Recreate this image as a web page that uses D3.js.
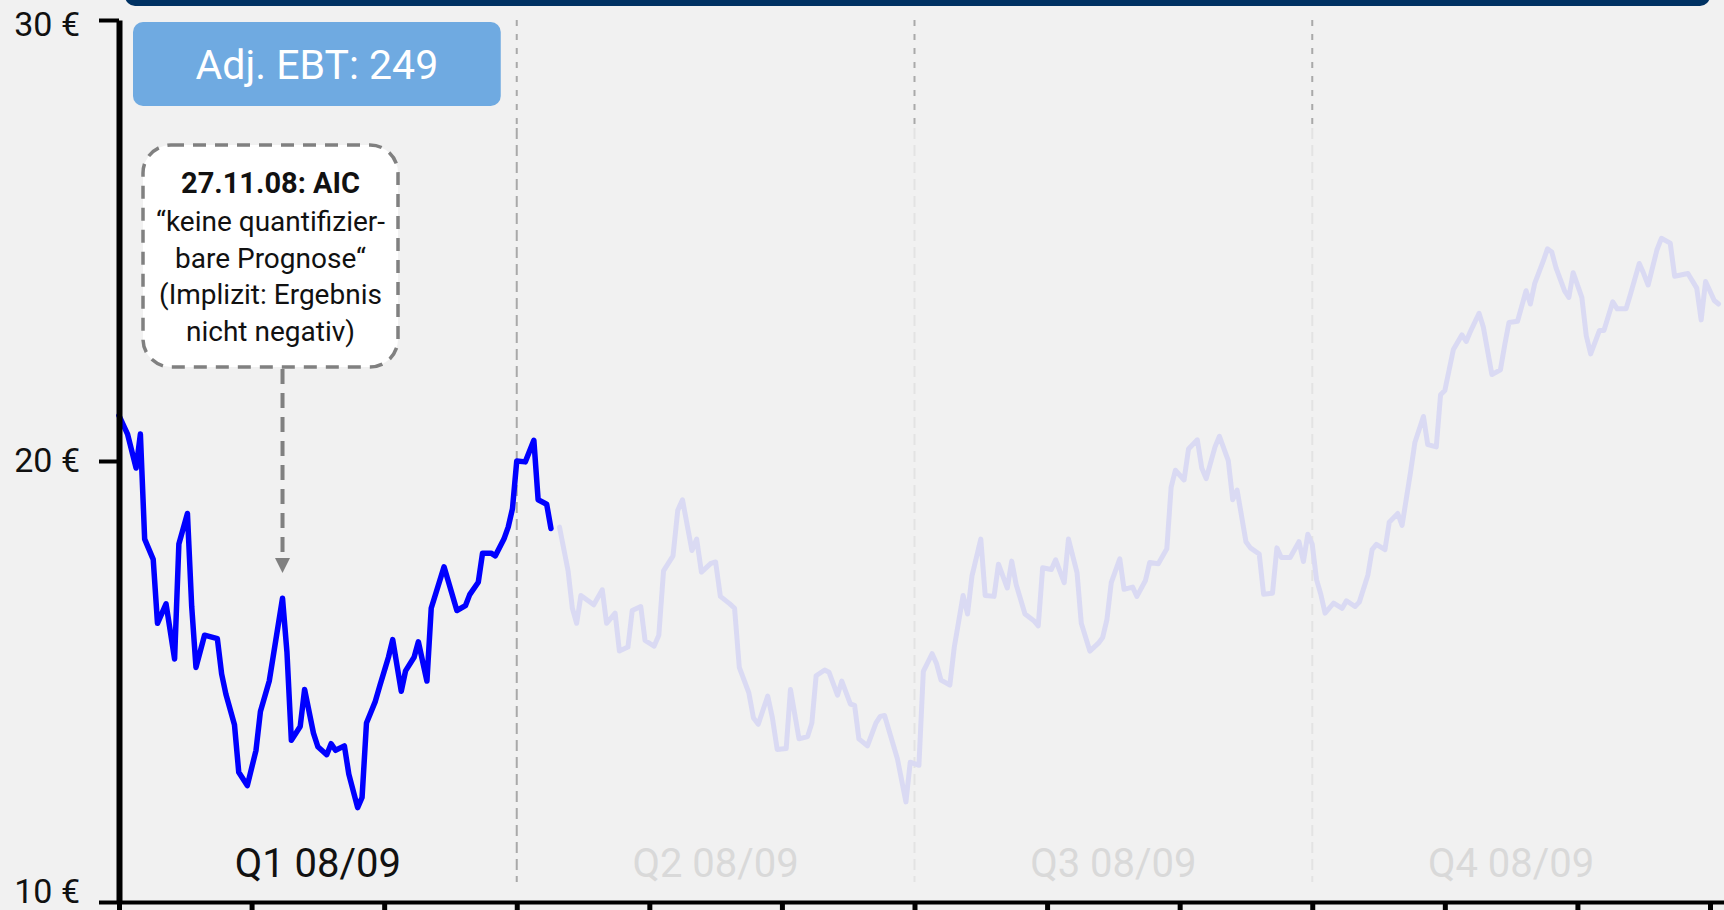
<!DOCTYPE html>
<html><head><meta charset="utf-8">
<script src="https://cdn.jsdelivr.net/npm/d3@7"></script>
<style>
html,body{margin:0;padding:0;background:#f1f1f1;overflow:hidden}
svg{display:block}
text{font-family:Roboto,"Noto Sans",sans-serif}
</style>
</head><body>
<svg id="chart" width="1724" height="910"></svg>
<script>
// ---------- DATA ----------
const yTickValues = [10, 20, 30];
const monthTickDates = ["2008-10-01","2008-11-01","2008-12-01","2009-01-01","2009-02-01","2009-03-01","2009-04-01","2009-05-01","2009-06-01","2009-07-01","2009-08-01","2009-09-01","2009-10-01"];
const quarterStarts = ["2008-10-01","2009-01-01","2009-04-01","2009-07-01","2009-10-01"];
const quarterLabels = ["Q1 08/09","Q2 08/09","Q3 08/09","Q4 08/09"];
const ebtLabel = "Adj. EBT: 249";
const noteTitle = "27.11.08: AIC";
const noteLines = ["\u201Ckeine quantifizier-","bare Prognose\u201C","(Implizit: Ergebnis","nicht negativ)"];
const noteArrowDate = "2008-11-08";

// Q1 (highlighted) share price
const pastDates = ["2008-10-01","2008-10-03","2008-10-05","2008-10-06","2008-10-07","2008-10-09","2008-10-10","2008-10-12","2008-10-14","2008-10-15","2008-10-17","2008-10-18","2008-10-19","2008-10-21","2008-10-24","2008-10-25","2008-10-26","2008-10-28","2008-10-29","2008-10-31","2008-11-02","2008-11-03","2008-11-05","2008-11-08","2008-11-09","2008-11-10","2008-11-12","2008-11-13","2008-11-15","2008-11-16","2008-11-18","2008-11-19","2008-11-20","2008-11-22","2008-11-23","2008-11-25","2008-11-26","2008-11-27","2008-11-29","2008-11-30","2008-12-02","2008-12-03","2008-12-05","2008-12-06","2008-12-08","2008-12-09","2008-12-11","2008-12-12","2008-12-15","2008-12-18","2008-12-20","2008-12-21","2008-12-23","2008-12-24","2008-12-26","2008-12-27","2008-12-29","2008-12-30","2008-12-31","2009-01-01","2009-01-03","2009-01-05","2009-01-06","2009-01-08","2009-01-09"];
const pastPrices = [21.03,20.61,19.84,20.61,18.23,17.77,16.32,16.76,15.51,18.12,18.81,16.70,15.32,16.05,15.97,15.17,14.71,14.02,12.94,12.64,13.44,14.32,15.01,16.89,15.67,13.67,13.98,14.82,13.83,13.52,13.34,13.59,13.44,13.54,12.90,12.14,12.37,14.06,14.55,14.90,15.55,15.95,14.78,15.24,15.55,15.90,15.01,16.66,17.60,16.61,16.72,16.97,17.25,17.91,17.91,17.85,18.23,18.50,18.92,20.00,19.98,20.47,19.12,19.02,18.47];

// Rest of the year (faded) share price
const futureDates = ["2009-01-11","2009-01-13","2009-01-14","2009-01-15","2009-01-16","2009-01-19","2009-01-21","2009-01-22","2009-01-24","2009-01-25","2009-01-27","2009-01-28","2009-01-30","2009-01-31","2009-02-02","2009-02-03","2009-02-04","2009-02-06","2009-02-07","2009-02-08","2009-02-10","2009-02-11","2009-02-12","2009-02-14","2009-02-15","2009-02-16","2009-02-18","2009-02-19","2009-02-20","2009-02-22","2009-02-23","2009-02-24","2009-02-26","2009-02-27","2009-02-28","2009-03-02","2009-03-03","2009-03-05","2009-03-07","2009-03-08","2009-03-09","2009-03-11","2009-03-12","2009-03-14","2009-03-15","2009-03-17","2009-03-18","2009-03-19","2009-03-21","2009-03-23","2009-03-24","2009-03-25","2009-03-28","2009-03-30","2009-03-31","2009-04-02","2009-04-03","2009-04-05","2009-04-06","2009-04-07","2009-04-09","2009-04-10","2009-04-12","2009-04-13","2009-04-14","2009-04-16","2009-04-17","2009-04-19","2009-04-20","2009-04-22","2009-04-23","2009-04-24","2009-04-26","2009-04-28","2009-04-29","2009-04-30","2009-05-02","2009-05-03","2009-05-05","2009-05-06","2009-05-08","2009-05-09","2009-05-11","2009-05-13","2009-05-14","2009-05-15","2009-05-16","2009-05-18","2009-05-19","2009-05-21","2009-05-22","2009-05-24","2009-05-25","2009-05-27","2009-05-29","2009-05-30","2009-05-31","2009-06-02","2009-06-03","2009-06-05","2009-06-06","2009-06-07","2009-06-09","2009-06-10","2009-06-12","2009-06-13","2009-06-14","2009-06-16","2009-06-17","2009-06-19","2009-06-20","2009-06-22","2009-06-23","2009-06-24","2009-06-26","2009-06-28","2009-06-29","2009-06-30","2009-07-01","2009-07-02","2009-07-03","2009-07-04","2009-07-06","2009-07-08","2009-07-09","2009-07-11","2009-07-12","2009-07-14","2009-07-15","2009-07-16","2009-07-18","2009-07-19","2009-07-21","2009-07-22","2009-07-24","2009-07-25","2009-07-27","2009-07-28","2009-07-30","2009-07-31","2009-08-01","2009-08-03","2009-08-05","2009-08-06","2009-08-07","2009-08-09","2009-08-10","2009-08-12","2009-08-14","2009-08-15","2009-08-16","2009-08-18","2009-08-20","2009-08-21","2009-08-22","2009-08-24","2009-08-25","2009-08-26","2009-08-27","2009-08-29","2009-08-30","2009-08-31","2009-09-02","2009-09-03","2009-09-04","2009-09-06","2009-09-07","2009-09-09","2009-09-10","2009-09-12","2009-09-13","2009-09-15","2009-09-16","2009-09-17","2009-09-19","2009-09-20","2009-09-22","2009-09-23","2009-09-26","2009-09-28","2009-09-29","2009-09-30","2009-10-02","2009-10-03"];
const futurePrices = [18.50,17.51,16.66,16.32,16.95,16.74,17.08,16.32,16.55,15.69,15.78,16.61,16.70,15.93,15.80,16.05,17.51,17.85,18.88,19.12,17.97,18.23,17.48,17.68,17.71,16.93,16.76,16.66,15.32,14.75,14.17,14.03,14.67,14.17,13.46,13.48,14.82,13.70,13.75,14.06,15.13,15.26,15.21,14.69,15.01,14.49,14.46,13.70,13.54,14.06,14.21,14.23,13.25,12.27,13.17,13.10,15.23,15.63,15.40,15.03,14.92,15.78,16.95,16.53,17.39,18.23,16.95,16.93,17.66,17.12,17.73,17.20,16.53,16.38,16.26,17.58,17.54,17.76,17.24,18.23,17.47,16.32,15.69,15.87,16.00,16.41,17.24,17.78,17.09,17.14,16.93,17.29,17.70,17.67,18.01,19.40,19.79,19.57,20.27,20.48,19.84,19.60,20.32,20.56,20.01,19.12,19.34,18.17,18.03,17.89,16.98,17.00,18.03,17.81,17.81,18.17,17.72,18.34,18.11,17.31,16.98,16.55,16.78,16.66,16.83,16.70,16.80,17.41,17.99,18.11,17.99,18.61,18.81,18.54,19.76,20.42,21.01,20.37,20.32,21.50,21.60,22.53,22.86,22.71,22.94,23.35,23.04,21.96,22.07,22.63,23.14,23.17,23.86,23.56,24.02,24.53,24.81,24.74,24.38,23.86,23.71,24.27,23.71,22.84,22.43,22.96,22.96,23.61,23.45,23.45,23.78,24.48,24.25,23.99,24.79,25.05,24.94,24.19,24.25,23.92,23.20,24.07,23.64,23.56];

// ---------- HELPERS ----------
const parse = d3.timeParse("%Y-%m-%d");
// position of a date in "months since 1 Oct 2008" (months drawn equally wide)
function monthPos(s){
  const dt = parse(s);
  const y = dt.getFullYear(), m = dt.getMonth();
  const dim = new Date(y, m + 1, 0).getDate();
  return (y - 2008) * 12 + m - 9 + (dt.getDate() - 1) / dim;
}

const W = 1724, H = 910;
const svg = d3.select("#chart");
svg.append("rect").attr("width", W).attr("height", H).attr("fill", "#f1f1f1");

const x = d3.scaleLinear().domain([0, 12]).range([119, 1710]);
const y = d3.scaleLinear().domain([10, 30]).range([902, 20]);

// ---------- TOP BANNER (cut off) ----------
svg.append("rect")
  .attr("x", x(0) + 6).attr("y", -40)
  .attr("width", x(12) - x(0) - 6).attr("height", 46)
  .attr("rx", 10).attr("fill", "#003263");

// ---------- QUARTER SEPARATORS ----------
const sepG = svg.append("g");
quarterStarts.slice(1, 4).forEach((q, i) => {
  const xp = x(monthPos(q));
  sepG.append("line").attr("x1", xp).attr("x2", xp).attr("y1", y(30)).attr("y2", 128)
    .attr("stroke", "#a9a9a9").attr("stroke-width", 2).attr("stroke-dasharray", "6,8");
  sepG.append("line").attr("x1", xp).attr("x2", xp).attr("y1", 128).attr("y2", 882)
    .attr("stroke", i === 0 ? "#a9a9a9" : "#e3e3e3").attr("stroke-width", 2).attr("stroke-dasharray", "11,6");
});

// ---------- EBT BOX ----------
const q0 = x(monthPos(quarterStarts[0])), q1 = x(monthPos(quarterStarts[1]));
svg.append("rect")
  .attr("x", q0 + 14).attr("y", 22)
  .attr("width", q1 - q0 - 30).attr("height", 84)
  .attr("rx", 10).attr("fill", "#6faae1");
svg.append("text")
  .attr("x", (q0 + 14 + q1 - 16) / 2).attr("y", 79)
  .attr("text-anchor", "middle").attr("fill", "#ffffff")
  .attr("font-size", 41).text(ebtLabel);

// ---------- QUARTER LABELS ----------
quarterLabels.forEach((lab, i) => {
  const a = x(monthPos(quarterStarts[i])), b = x(monthPos(quarterStarts[i + 1]));
  svg.append("text")
    .attr("x", (a + b) / 2).attr("y", 877)
    .attr("text-anchor", "middle")
    .attr("font-size", 40)
    .attr("fill", i === 0 ? "#111111" : "#d9d9d9")
    .text(lab);
});

// ---------- LINES ----------
const line = d3.line()
  .x(d => x(monthPos(d.date)))
  .y(d => y(d.price))
  .curve(d3.curveLinear);

const future = futureDates.map((d, i) => ({date: d, price: futurePrices[i]}));
const past = pastDates.map((d, i) => ({date: d, price: pastPrices[i]}));

svg.append("path").datum(future).attr("d", line)
  .attr("fill", "none").attr("stroke", "#dadaf3").attr("stroke-width", 5)
  .attr("stroke-linejoin", "round").attr("stroke-linecap", "round");
svg.append("path").datum(past).attr("d", line)
  .attr("fill", "none").attr("stroke", "#0000ff").attr("stroke-width", 5.5)
  .attr("stroke-linejoin", "round").attr("stroke-linecap", "round");

// ---------- ANNOTATION ----------
const noteG = svg.append("g");
const bx = 143, by = 145, bw = 255, bh = 222;
noteG.append("rect").attr("x", bx).attr("y", by).attr("width", bw).attr("height", bh)
  .attr("rx", 28).attr("fill", "#ffffff")
  .attr("stroke", "#808080").attr("stroke-width", 3.5).attr("stroke-dasharray", "13,9");
const cx = bx + bw / 2;
noteG.append("text").attr("x", cx).attr("y", 193).attr("text-anchor", "middle")
  .attr("font-size", 29).attr("font-weight", "bold").attr("fill", "#111").text(noteTitle);
noteLines.forEach((t, i) => {
  noteG.append("text").attr("x", cx).attr("y", 231 + i * 36.5).attr("text-anchor", "middle")
    .attr("font-size", 28).attr("fill", "#111").text(t);
});
const ax = x(monthPos(noteArrowDate));
noteG.append("line").attr("x1", ax).attr("x2", ax).attr("y1", by + bh + 2).attr("y2", 556)
  .attr("stroke", "#808080").attr("stroke-width", 4).attr("stroke-dasharray", "15,9");
noteG.append("path")
  .attr("d", `M${ax - 7.5},558 L${ax + 7.5},558 L${ax},573 Z`)
  .attr("fill", "#808080");

// ---------- AXES ----------
const xAxisScale = x.copy().domain([0, x.invert(W + 5)]).range([119, W + 5]);
const xAxis = svg.append("g").attr("transform", `translate(0,${y(10)})`)
  .call(d3.axisBottom(xAxisScale)
    .tickValues(monthTickDates.map(monthPos))
    .tickSize(10).tickSizeOuter(0).tickFormat(""));
xAxis.select(".domain").attr("stroke", "#000").attr("stroke-width", 4);
xAxis.selectAll(".tick line").attr("stroke", "#000").attr("stroke-width", 5);

const yAxis = svg.append("g").attr("transform", `translate(${x(0)},0)`)
  .call(d3.axisLeft(y).tickValues(yTickValues).tickSize(20).tickSizeOuter(0)
    .tickPadding(19).tickFormat(d => d + " \u20AC"));
yAxis.select(".domain").attr("stroke", "#000").attr("stroke-width", 6);
yAxis.selectAll(".tick line").attr("stroke", "#000").attr("stroke-width", 4);
yAxis.selectAll(".tick text")
  .attr("font-size", 34).attr("fill", "#111")
  .style("font-family", "Roboto, sans-serif")
  .attr("dy", d => d === 30 ? "0.47em" : (d === 10 ? "0.02em" : "0.32em"));
</script>
</body></html>
